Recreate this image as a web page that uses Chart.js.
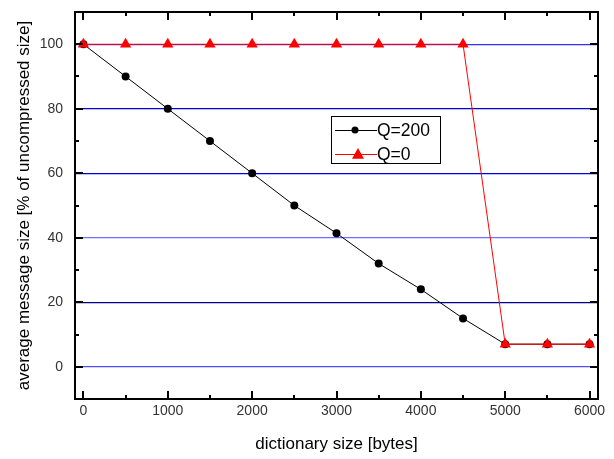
<!DOCTYPE html>
<html>
<head>
<meta charset="utf-8">
<script src="https://cdn.jsdelivr.net/npm/chart.js@4/dist/chart.umd.min.js"></script>
<style>
html,body{margin:0;padding:0;background:#fff;}
#wrap{width:614px;height:459px;position:relative;}
</style>
</head>
<body>
<div id="wrap"><canvas id="c" width="614" height="459"></canvas></div>
<script>
const dictSize = [0, 500, 1000, 1500, 2000, 2500, 3000, 3500, 4000, 4500, 5000, 5500, 6000];
const q200 = [100, 90, 80, 70, 60, 50, 41.4, 32, 24, 15, 7, 7, 7];
const q0 = [100, 100, 100, 100, 100, 100, 100, 100, 100, 100, 7, 7, 7];
const xTicks = [0, 1000, 2000, 3000, 4000, 5000, 6000];
const xMinor = [500, 1500, 2500, 3500, 4500, 5500];
const yTicks = [0, 20, 40, 60, 80, 100];
const yMinor = [10, 30, 50, 70, 90];
const labels = ['Q=200', 'Q=0'];

const gridColors = {0: '#5050ff', 20: '#000088', 40: '#7070ff', 60: '#0000dd', 80: '#0000dd', 100: '#3030ff'};

const framePlugin = {
  id: 'frame',
  afterDatasetsDraw(chart) {
    const ctx = chart.ctx, a = chart.chartArea;
    const xs = chart.scales.x, ys = chart.scales.y;
    ctx.save();
    ctx.strokeStyle = '#000';
    ctx.lineWidth = 2;
    ctx.strokeRect(a.left, a.top, a.right - a.left, a.bottom - a.top);
    ctx.beginPath();
    const tk = (arr, len) => {
      arr.forEach(v => {
        const px = Math.round(xs.getPixelForValue(v));
        ctx.moveTo(px, a.bottom); ctx.lineTo(px, a.bottom - len);
        ctx.moveTo(px, a.top); ctx.lineTo(px, a.top + len);
      });
    };
    tk(xTicks, 8); tk(xMinor, 4);
    const tky = (arr, len) => {
      arr.forEach(v => {
        const py = Math.round(ys.getPixelForValue(v));
        ctx.moveTo(a.left, py); ctx.lineTo(a.left + len, py);
        ctx.moveTo(a.right, py); ctx.lineTo(a.right - len, py);
      });
    };
    tky(yTicks, 8); tky(yMinor, 4);
    ctx.stroke();

    // legend
    const lx = 331, ly = 116, lw = 109, lh = 47;
    ctx.fillStyle = '#fff';
    ctx.fillRect(lx, ly, lw, lh);
    ctx.lineWidth = 1;
    ctx.strokeStyle = '#000';
    ctx.strokeRect(lx + 0.5, ly + 0.5, lw, lh);
    chart.data.datasets.forEach((ds, i) => {
      const yy = ly + 14 + i * 24;
      ctx.strokeStyle = ds.borderColor;
      ctx.lineWidth = 1;
      ctx.beginPath();
      ctx.moveTo(lx + 4, yy + 0.5); ctx.lineTo(lx + 46, yy + 0.5);
      ctx.stroke();
      ctx.fillStyle = ds.pointBackgroundColor;
      ctx.beginPath();
      if (ds.pointStyle === 'triangle') {
        const cx = lx + 27, r = 6;
        ctx.moveTo(cx, yy - r); ctx.lineTo(cx + r, yy + r * 0.8); ctx.lineTo(cx - r, yy + r * 0.8);
        ctx.closePath();
      } else {
        ctx.arc(lx + 24, yy, 3.5, 0, Math.PI * 2);
      }
      ctx.fill();
      ctx.fillStyle = '#000';
      ctx.font = '17.5px "Liberation Sans", Arial, sans-serif';
      ctx.textBaseline = 'middle';
      ctx.textAlign = 'left';
      ctx.fillText(ds.label, lx + 46, yy + 1);
    });
    ctx.restore();
  }
};

new Chart(document.getElementById('c'), {
  type: 'line',
  data: {
    datasets: [
      {
        label: labels[0],
        data: dictSize.map((x, i) => ({x, y: q200[i]})),
        borderColor: '#000',
        borderWidth: 1,
        pointBackgroundColor: '#000',
        pointBorderColor: '#000',
        pointStyle: 'circle',
        pointRadius: 4,
        pointBorderWidth: 0,
        tension: 0,
        order: 1
      },
      {
        label: labels[1],
        data: dictSize.map((x, i) => ({x, y: q0[i]})),
        borderColor: '#ff0000',
        borderWidth: 1,
        pointBackgroundColor: '#ff0000',
        pointBorderColor: '#ff0000',
        pointStyle: 'triangle',
        pointRadius: 6.5,
        pointBorderWidth: 0,
        tension: 0,
        order: 0
      }
    ]
  },
  options: {
    responsive: false,
    animation: false,
    layout: {padding: {top: 12, right: 16, left: 0, bottom: 0}},
    plugins: {legend: {display: false}, tooltip: {enabled: false}},
    scales: {
      x: {
        type: 'linear',
        min: -100, max: 6100,
        afterBuildTicks: s => { s.ticks = xTicks.map(v => ({value: v})); },
        afterFit: s => { s.height = 60; s.paddingLeft = 0; s.paddingRight = 0; },
        grid: {display: false, drawTicks: false},
        border: {display: false},
        ticks: {
          color: '#333',
          font: {family: '"Liberation Sans Narrow", "Liberation Sans", Arial, sans-serif', size: 14},
          padding: 4,
          maxRotation: 0,
          callback: v => String(v)
        },
        title: {
          display: true,
          text: 'dictionary size [bytes]',
          color: '#000',
          font: {family: '"Liberation Sans", Arial, sans-serif', size: 17},
          padding: {top: 6}
        }
      },
      y: {
        type: 'linear',
        min: -10, max: 110,
        afterBuildTicks: s => { s.ticks = yTicks.map(v => ({value: v})); },
        afterFit: s => { s.width = 75; s.paddingTop = 0; s.paddingBottom = 0; },
        grid: {
          drawTicks: false,
          color: c => gridColors[c.tick ? c.tick.value : 0] || '#0000ff',
          lineWidth: 1.3
        },
        border: {display: false},
        ticks: {
          color: '#333',
          font: {family: '"Liberation Sans Narrow", "Liberation Sans", Arial, sans-serif', size: 14},
          padding: 12,
          callback: v => String(v)
        },
        title: {
          display: true,
          text: 'average message size [% of uncompressed size]',
          color: '#000',
          font: {family: '"Liberation Sans", Arial, sans-serif', size: 17},
          padding: {top: 14, bottom: 0}
        }
      }
    }
  },
  plugins: [framePlugin]
});
</script>
</body>
</html>
